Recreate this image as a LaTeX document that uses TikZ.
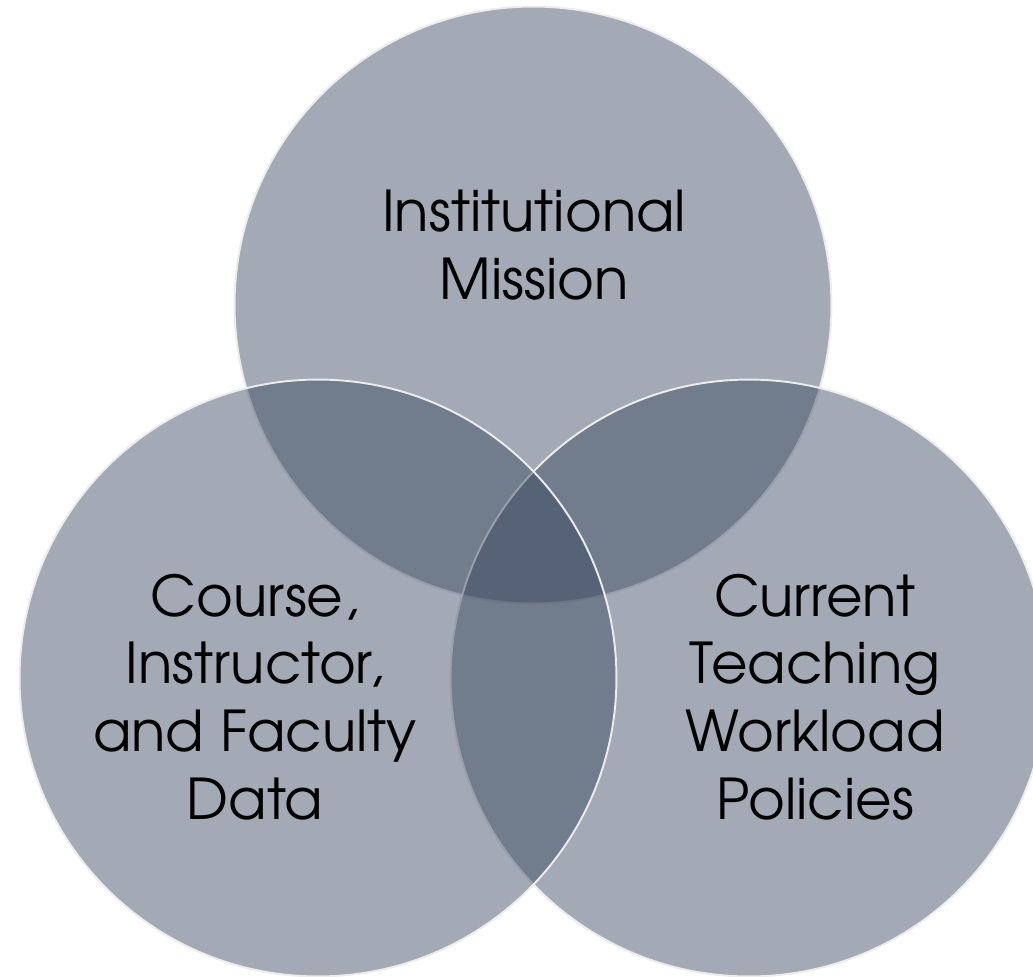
\documentclass[tikz,border=0pt]{standalone}
\usepackage{fontspec}
\setmainfont{texgyreadventor-regular.otf}
\definecolor{vnfill}{HTML}{36455D}
\definecolor{vnline}{HTML}{ECECEC}

\begin{document}
\begin{tikzpicture}[x=0.02cm, y=-0.02cm, every node/.style={font=\fontsize{32}{38.5}\selectfont}]
            \useasboundingbox (0,0) rectangle (1033,976);
            \clip (0,0) rectangle (1033,976);
            \tikzset{vncircle/.style={circle, draw=vnline, line width=1.1pt, fill=vnfill, fill opacity=0.46, minimum size=11.94cm, inner sep=0pt}}

            % Main circles
            \node[vncircle] (mission) at (533,305) {};
            \node[vncircle] (policies) at (749,678) {};
            \node[vncircle] (data) at (318,678) {};

            % Labels
            \node[align=center, text=black] (missiontxt) at (534,245) {Institutional\\Mission};
            \node[align=center, text=black] (datatxt) at (255,697) {Course,\\Instructor,\\and Faculty\\Data};
            \node[align=center, text=black] (policiestxt) at (815,697) {Current\\Teaching\\Workload\\Policies};
        \end{tikzpicture}
\end{document}
